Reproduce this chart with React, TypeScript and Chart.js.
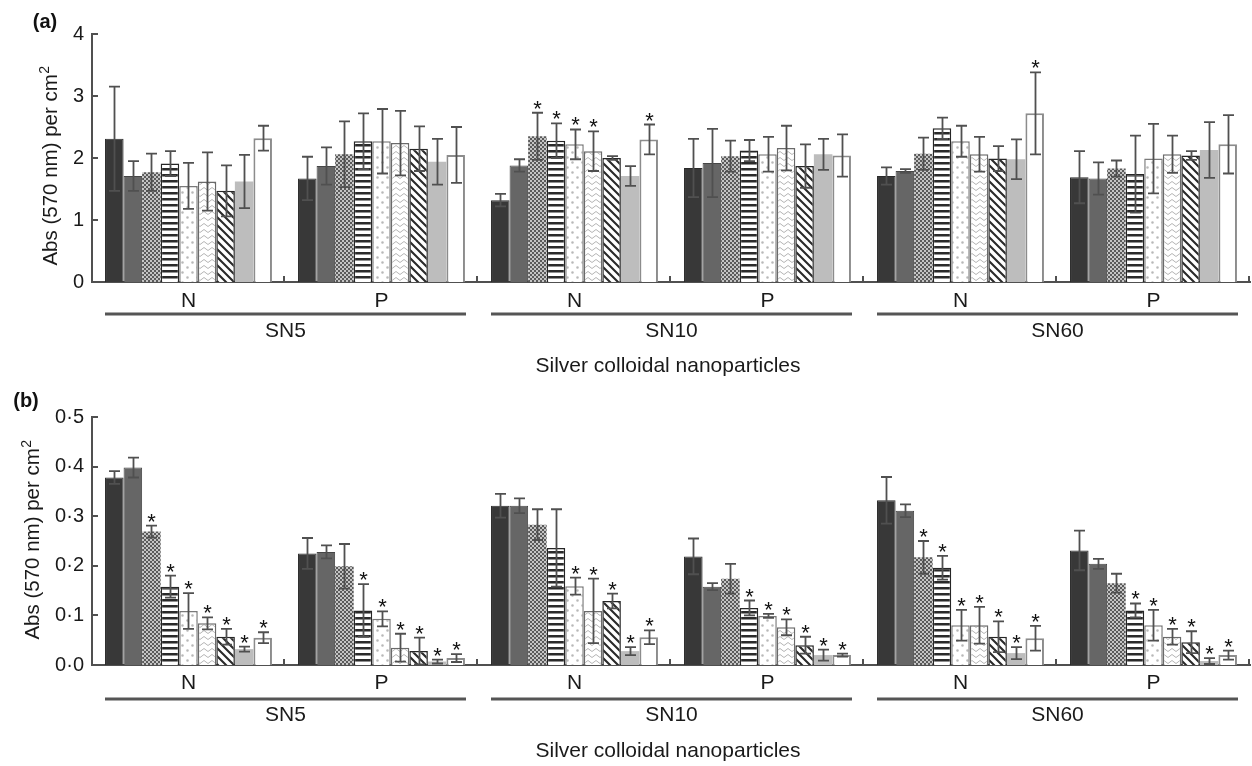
import React, { useEffect, useRef } from "react";
import { Chart, registerables } from "chart.js";

Chart.register(...registerables);

const FONT = '"Liberation Sans", Arial, Helvetica, sans-serif';

// ---------- labels ----------
const subgroupLabels = ["N", "P", "N", "P", "N", "P"];
const particleLabels = ["SN5", "SN10", "SN60"];
const xAxisTitle = "Silver colloidal nanoparticles";
const yAxisTitleMain = "Abs (570 nm) per cm";
const yAxisTitleSup = "2";
const seriesNames = ["S1", "S2", "S3", "S4", "S5", "S6", "S7", "S8", "S9"];
const yTicksA = [0, 1, 2, 3, 4];
const yTicksB = ["0·0", "0·1", "0·2", "0·3", "0·4", "0·5"];

// ---------- panel (a) : rows = SN5 N, SN5 P, SN10 N, SN10 P, SN60 N, SN60 P ; cols = 9 series ----------
const meanA = [
  [2.31, 1.71, 1.77, 1.91, 1.55, 1.62, 1.47, 1.62, 2.32],
  [1.67, 1.87, 2.06, 2.27, 2.27, 2.24, 2.15, 1.94, 2.05],
  [1.32, 1.88, 2.35, 2.28, 2.22, 2.11, 2.0, 1.71, 2.3],
  [1.84, 1.92, 2.03, 2.12, 2.06, 2.16, 1.87, 2.06, 2.04],
  [1.71, 1.79, 2.07, 2.48, 2.27, 2.06, 1.99, 1.98, 2.72],
  [1.69, 1.67, 1.83, 1.74, 1.99, 2.06, 2.04, 2.13, 2.22],
];
const sdA = [
  [0.84, 0.24, 0.3, 0.2, 0.37, 0.47, 0.41, 0.43, 0.2],
  [0.35, 0.3, 0.53, 0.45, 0.52, 0.52, 0.36, 0.37, 0.45],
  [0.1, 0.1, 0.38, 0.28, 0.24, 0.32, 0.03, 0.16, 0.24],
  [0.47, 0.55, 0.25, 0.17, 0.28, 0.36, 0.35, 0.25, 0.34],
  [0.14, 0.03, 0.26, 0.17, 0.25, 0.28, 0.2, 0.32, 0.66],
  [0.42, 0.26, 0.13, 0.62, 0.56, 0.3, 0.07, 0.45, 0.47],
];
const starsA = [
  [0, 0, 0, 0, 0, 0, 0, 0, 0],
  [0, 0, 0, 0, 0, 0, 0, 0, 0],
  [0, 0, 1, 1, 1, 1, 0, 0, 1],
  [0, 0, 0, 0, 0, 0, 0, 0, 0],
  [0, 0, 0, 0, 0, 0, 0, 0, 1],
  [0, 0, 0, 0, 0, 0, 0, 0, 0],
];

// ---------- panel (b) ----------
const meanB = [
  [0.378, 0.398, 0.269, 0.158, 0.109, 0.084, 0.057, 0.032, 0.055],
  [0.225, 0.228, 0.199, 0.11, 0.093, 0.035, 0.028, 0.007, 0.014],
  [0.321, 0.321, 0.283, 0.236, 0.159, 0.109, 0.129, 0.028, 0.056],
  [0.219, 0.158, 0.174, 0.115, 0.099, 0.076, 0.04, 0.02, 0.02],
  [0.332, 0.311, 0.217, 0.196, 0.08, 0.08, 0.057, 0.024, 0.054],
  [0.231, 0.204, 0.165, 0.11, 0.08, 0.057, 0.046, 0.008, 0.02],
];
const sdB = [
  [0.013, 0.02, 0.012, 0.022, 0.036, 0.012, 0.016, 0.005, 0.011],
  [0.031, 0.013, 0.045, 0.053, 0.015, 0.028, 0.027, 0.004, 0.008],
  [0.024, 0.015, 0.031, 0.078, 0.017, 0.065, 0.015, 0.008, 0.014],
  [0.036, 0.007, 0.03, 0.015, 0.004, 0.016, 0.017, 0.011, 0.003],
  [0.047, 0.013, 0.033, 0.024, 0.031, 0.037, 0.031, 0.012, 0.025],
  [0.04, 0.01, 0.019, 0.014, 0.031, 0.016, 0.022, 0.006, 0.009],
];
const starsB = [
  [0, 0, 1, 1, 1, 1, 1, 1, 1],
  [0, 0, 0, 1, 1, 1, 1, 1, 1],
  [0, 0, 0, 0, 1, 1, 1, 1, 1],
  [0, 0, 0, 1, 1, 1, 1, 1, 1],
  [0, 0, 1, 1, 1, 1, 1, 1, 1],
  [0, 0, 0, 1, 1, 1, 1, 1, 1],
];

// ---------- patterns ----------
function tile(w: number, h: number, draw: (g: CanvasRenderingContext2D) => void) {
  const c = document.createElement("canvas");
  c.width = w;
  c.height = h;
  const g = c.getContext("2d")!;
  draw(g);
  return g.createPattern(c, "repeat")!;
}

function seriesStyles() {
  const checker = tile(4, 4, (g) => {
    g.fillStyle = "#c4c4c4";
    g.fillRect(0, 0, 4, 4);
    g.fillStyle = "#5a5a5a";
    g.fillRect(0, 0, 2, 2);
    g.fillRect(2, 2, 2, 2);
  });
  const hstripes = tile(6, 6, (g) => {
    g.fillStyle = "#ffffff";
    g.fillRect(0, 0, 6, 6);
    g.fillStyle = "#2a2a2a";
    g.fillRect(0, 0, 6, 2);
    g.fillStyle = "#909090";
    g.fillRect(0, 2, 6, 1);
  });
  const dots = tile(10, 10, (g) => {
    g.fillStyle = "#ffffff";
    g.fillRect(0, 0, 10, 10);
    g.fillStyle = "#b8b8b8";
    g.beginPath();
    g.arc(2.5, 2.5, 1.3, 0, Math.PI * 2);
    g.arc(7.5, 7.5, 1.3, 0, Math.PI * 2);
    g.fill();
  });
  const zigzag = tile(8, 6, (g) => {
    g.fillStyle = "#ffffff";
    g.fillRect(0, 0, 8, 6);
    g.strokeStyle = "#b5b5b5";
    g.lineWidth = 1;
    g.beginPath();
    g.moveTo(0, 4.5);
    g.lineTo(4, 1.5);
    g.lineTo(8, 4.5);
    g.stroke();
  });
  const diag = tile(8, 8, (g) => {
    g.fillStyle = "#ffffff";
    g.fillRect(0, 0, 8, 8);
    g.strokeStyle = "#2a2a2a";
    g.lineWidth = 2.1;
    g.beginPath();
    g.moveTo(-2, -2);
    g.lineTo(10, 10);
    g.moveTo(-2, 6);
    g.lineTo(2, 10);
    g.moveTo(6, -2);
    g.lineTo(10, 2);
    g.stroke();
  });
  return [
    { bg: "#383838", border: "#2a2a2a", bw: 1 },
    { bg: "#666666", border: "#464646", bw: 1 },
    { bg: checker, border: "rgba(0,0,0,0)", bw: 0 },
    { bg: hstripes, border: "#262626", bw: 1.5 },
    { bg: dots, border: "#7a7a7a", bw: 1.5 },
    { bg: zigzag, border: "#6a6a6a", bw: 1.5 },
    { bg: diag, border: "#262626", bw: 1.5 },
    { bg: "#bdbdbd", border: "rgba(0,0,0,0)", bw: 0 },
    { bg: "#ffffff", border: "#8c8c8c", bw: 2 },
  ];
}

type PanelProps = {
  top: number;
  means: number[][];
  sds: number[][];
  stars: number[][];
  yMax: number;
  yStep: number;
  tickText: (string | number)[];
  panelLabel: string;
  labelPos: [number, number];
  titleY: number;
  gap: number[];
};

function Panel(props: PanelProps) {
  const ref = useRef<HTMLCanvasElement>(null);
  useEffect(() => {
    const { means, sds, stars, yMax, yStep, tickText, panelLabel, labelPos, titleY, gap } = props;
    const styles = seriesStyles();
    const datasets = styles.map((st, s) => ({
      label: seriesNames[s],
      data: means.map((row) => row[s]),
      backgroundColor: st.bg as any,
      borderColor: st.border,
      borderWidth: st.bw,
    }));

    const decor = {
      id: "decor",
      afterDatasetsDraw(chart: any) {
        const ctx: CanvasRenderingContext2D = chart.ctx;
        const y = chart.scales.y;
        ctx.save();
        ctx.strokeStyle = "#505050";
        ctx.lineWidth = 1.8;
        ctx.fillStyle = "#111";
        ctx.font = `22px ${FONT}`;
        ctx.textAlign = "center";
        ctx.textBaseline = "alphabetic";
        for (let s = 0; s < 9; s++) {
          const meta = chart.getDatasetMeta(s);
          for (let g = 0; g < means.length; g++) {
            const el = meta.data[g];
            const cx = Math.round(el.x) + 0.5;
            const m = means[g][s];
            const e = sds[g][s];
            const yt = y.getPixelForValue(m + e);
            const yb = y.getPixelForValue(Math.max(0, m - e));
            ctx.beginPath();
            ctx.moveTo(cx, yt);
            ctx.lineTo(cx, yb);
            ctx.moveTo(cx - 5.5, yt);
            ctx.lineTo(cx + 5.5, yt);
            ctx.moveTo(cx - 5.5, yb);
            ctx.lineTo(cx + 5.5, yb);
            ctx.stroke();
            if (stars[g][s]) {
              ctx.fillText("*", cx, yt + 3);
            }
          }
        }
        ctx.restore();
      },
      afterDraw(chart: any) {
        const ctx: CanvasRenderingContext2D = chart.ctx;
        const { left, right, bottom } = chart.chartArea;
        const y = chart.scales.y;
        const x = chart.scales.x;
        const cw = (right - left) / 6;
        ctx.save();
        // inward ticks
        ctx.strokeStyle = "#505050";
        ctx.lineWidth = 2;
        ctx.beginPath();
        y.ticks.forEach((t: any) => {
          const py = Math.round(y.getPixelForValue(t.value));
          ctx.moveTo(left, py);
          ctx.lineTo(left + 6, py);
        });
        for (let k = 1; k <= 6; k++) {
          const px = Math.round(left + k * cw) - 1;
          ctx.moveTo(px, bottom);
          ctx.lineTo(px, bottom - 6);
        }
        ctx.stroke();

        ctx.fillStyle = "#1a1a1a";
        ctx.textAlign = "center";
        ctx.textBaseline = "middle";
        ctx.font = `21px ${FONT}`;
        subgroupLabels.forEach((lab, i) => {
          ctx.fillText(lab, x.getPixelForValue(i), bottom + gap[0]);
        });
        ctx.strokeStyle = "#555";
        ctx.lineWidth = 3;
        particleLabels.forEach((lab, gI) => {
          const x0 = left + gI * 2 * cw + 13;
          const x1 = left + (gI + 1) * 2 * cw - 12;
          ctx.beginPath();
          ctx.moveTo(x0, bottom + gap[1]);
          ctx.lineTo(x1, bottom + gap[1]);
          ctx.stroke();
          ctx.fillText(lab, (x0 + x1) / 2, bottom + gap[2]);
        });
        ctx.fillText(xAxisTitle, (left + right) / 2 - 3, bottom + gap[3]);

        // y-axis title
        ctx.font = `20px ${FONT}`;
        let maxW = 0;
        tickText.forEach((t) => {
          maxW = Math.max(maxW, ctx.measureText(String(t)).width);
        });
        const tx = left - 8 - maxW - 22;
        ctx.save();
        ctx.translate(tx, titleY);
        ctx.rotate(-Math.PI / 2);
        ctx.font = `20.5px ${FONT}`;
        const mainW = ctx.measureText(yAxisTitleMain).width;
        ctx.font = `14px ${FONT}`;
        const supW = ctx.measureText(yAxisTitleSup).width;
        const start = -(mainW + supW) / 2;
        ctx.font = `20.5px ${FONT}`;
        ctx.textAlign = "left";
        ctx.fillText(yAxisTitleMain, start, 0);
        ctx.font = `14px ${FONT}`;
        ctx.fillText(yAxisTitleSup, start + mainW + 0.5, -6);
        ctx.restore();

        // panel label
        ctx.font = `bold 20px ${FONT}`;
        ctx.textAlign = "center";
        ctx.fillStyle = "#111";
        ctx.fillText(panelLabel, labelPos[0], labelPos[1]);
        ctx.restore();
      },
    };

    const chart = new Chart(ref.current!, {
      type: "bar",
      data: { labels: subgroupLabels.map((l, i) => `${particleLabels[Math.floor(i / 2)]} ${l}`), datasets },
      options: {
        animation: false,
        responsive: false,
        devicePixelRatio: 1,
        layout: { padding: { left: 0, top: 34, right: 2, bottom: 0 } },
        datasets: { bar: { categoryPercentage: 0.865, barPercentage: 1.0 } },
        plugins: { legend: { display: false }, tooltip: { enabled: false }, title: { display: false } },
        scales: {
          x: {
            grid: { display: false, drawTicks: false },
            border: { display: true, color: "#505050", width: 2 },
            ticks: { display: false },
            afterFit: (sc: any) => {
              sc.height = 101;
            },
          },
          y: {
            min: 0,
            max: yMax,
            grid: { display: false, drawTicks: false },
            border: { display: true, color: "#505050", width: 2 },
            ticks: {
              stepSize: yStep,
              padding: 8,
              color: "#1a1a1a",
              font: { family: FONT, size: 20 },
              callback: (_v: any, i: number) => String(tickText[i]),
            },
            afterFit: (sc: any) => {
              sc.width = 92;
            },
          },
        },
      } as any,
      plugins: [decor as any],
    });
    return () => chart.destroy();
  }, []);
  return (
    <canvas
      ref={ref}
      width={1252}
      height={383}
      style={{ position: "absolute", left: 0, top: props.top, width: 1252, height: 383, display: "block" }}
    />
  );
}

export default function App() {
  return (
    <div style={{ position: "absolute", left: 0, top: 0, width: 1252, height: 766, background: "#fff", overflow: "hidden" }}>
      <Panel
        top={0}
        means={meanA}
        sds={sdA}
        stars={starsA}
        yMax={4}
        yStep={1}
        tickText={yTicksA}
        panelLabel="(a)"
        labelPos={[45, 22]}
        titleY={166}
        gap={[19, 32, 49, 84]}
      />
      <Panel
        top={383}
        means={meanB}
        sds={sdB}
        stars={starsB}
        yMax={0.5}
        yStep={0.1}
        tickText={yTicksB}
        panelLabel="(b)"
        labelPos={[26, 18]}
        titleY={157}
        gap={[18, 34, 50, 86]}
      />
    </div>
  );
}
